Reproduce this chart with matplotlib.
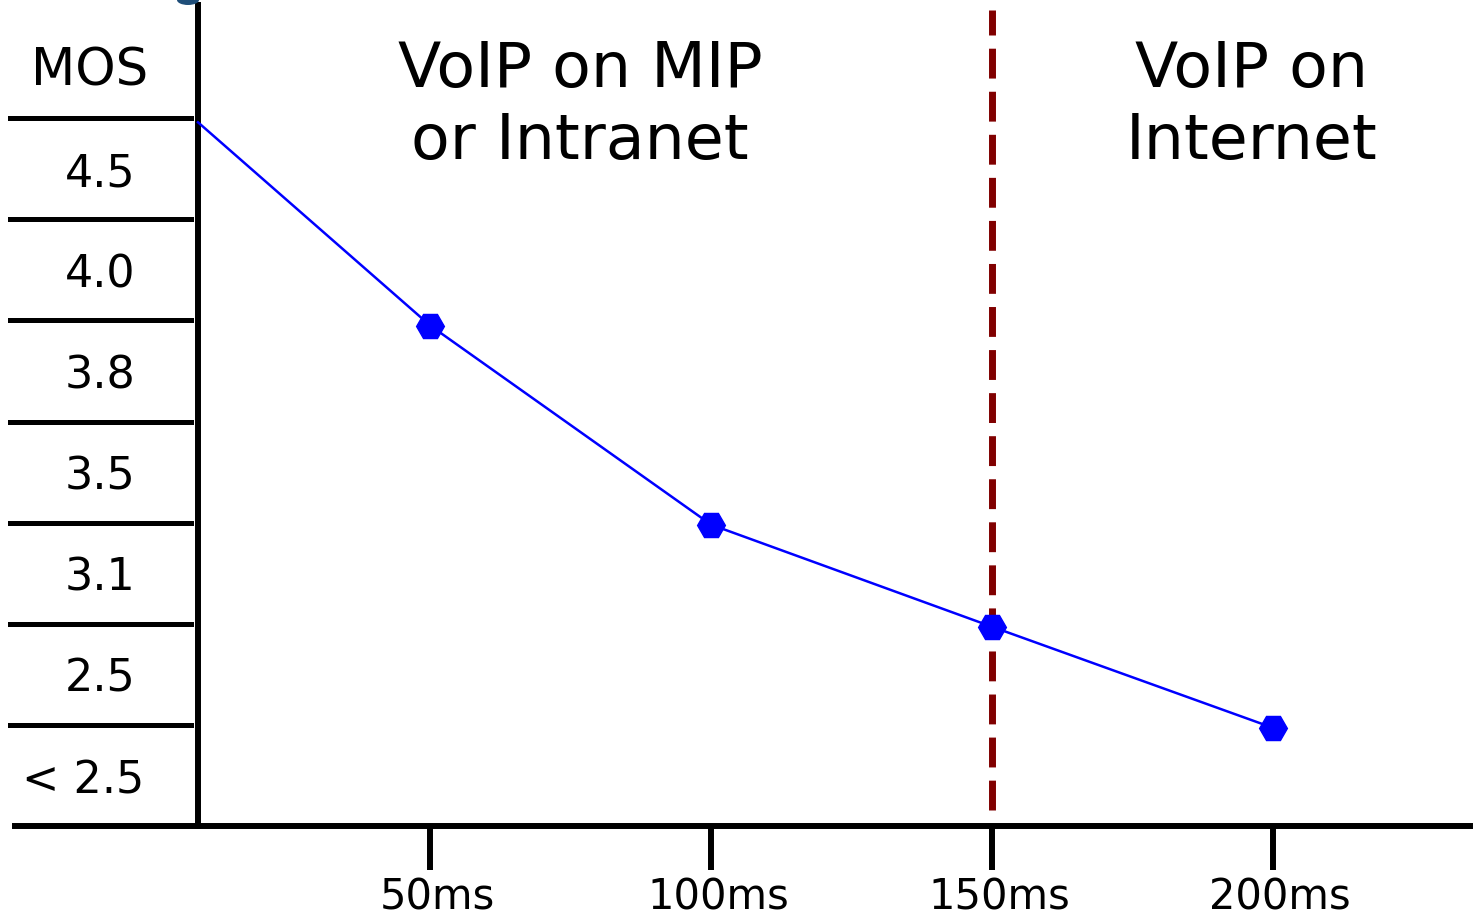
import numpy as np
import matplotlib
matplotlib.use('Agg')
import matplotlib.pyplot as plt
import matplotlib.transforms as mtransforms
from matplotlib.patches import Ellipse

# Atraso (ms) e nível MOS (em linhas da tabela, 0 = base)
atraso = [8.7, 50, 100, 150, 200]
nivel_mos = [6.96, 4.95, 2.98, 1.97, 0.97]

rotulos_mos = ['< 2.5', '2.5', '3.1', '3.5', '3.8', '4.0', '4.5']
ticks_x = [50, 100, 150, 200]
rotulos_x = ['50ms', '100ms', '150ms', '200ms']
limite = 150

fig = plt.figure(figsize=(14.73, 9.19), dpi=100)
ax = fig.add_axes([198 / 1473, 93 / 919, 1272 / 1473, 821 / 919])
ax.set_xlim(8.7, 235)
ax.set_ylim(0, 8.12)

for s in ['top', 'right']:
    ax.spines[s].set_visible(False)
ax.spines['left'].set_linewidth(4.3)
ax.spines['bottom'].set_linewidth(4.3)

ax.set_yticks([])
ax.set_xticks(ticks_x)
ax.set_xticklabels(rotulos_x, fontsize=30)
ax.tick_params(axis='x', direction='out', length=32, width=4.3, pad=4)
deslocamento = mtransforms.ScaledTranslation(7 / 100, 0, fig.dpi_scale_trans)
for lbl in ax.get_xticklabels():
    lbl.set_transform(lbl.get_transform() + deslocamento)

# linhas da tabela MOS à esquerda
for i in range(1, len(rotulos_mos) + 1):
    ax.axhline(i, xmin=-0.148, xmax=-0.0055, color='black', lw=3.6, clip_on=False)
ax.axhline(0, xmin=-0.144, xmax=0, color='black', lw=4.3, clip_on=False)

trans = mtransforms.blended_transform_factory(ax.transAxes, ax.transData)
for i, r in enumerate(rotulos_mos):
    xt = -0.090 if r.startswith('<') else -0.077
    ax.text(xt, i + 0.45, r, transform=trans, ha='center', va='center',
            fontsize=32, clip_on=False)
ax.text(-0.085, 7.46, 'MOS', transform=trans, ha='center', va='center',
        fontsize=37, clip_on=False)

# linha limite tracejada
ax.axvline(limite, ymin=0.02, ymax=0.994, color='#800000', lw=5,
           linestyle=(0, (4.3, 1.9)))

# curva MOS x atraso
ax.plot(atraso, nivel_mos, color='blue', lw=1.8, marker='H', markersize=20,
        markevery=[1, 2, 3, 4], clip_on=False, zorder=3)

ax.text(76.7, 7.12, 'VoIP on MIP\nor Intranet', ha='center', va='center',
        fontsize=45.5, linespacing=1.27)
ax.text(196.2, 7.12, 'VoIP on\nInternet', ha='center', va='center',
        fontsize=45.5, linespacing=1.27)

# pedaço de logotipo cortado no topo
fig.patches.append(Ellipse((188 / 1473, 1.0), 22 / 1473, 10 / 919,
                           transform=fig.transFigure, facecolor='#1f4e79',
                           edgecolor='none'))

fig.savefig('out.png', dpi=100)
